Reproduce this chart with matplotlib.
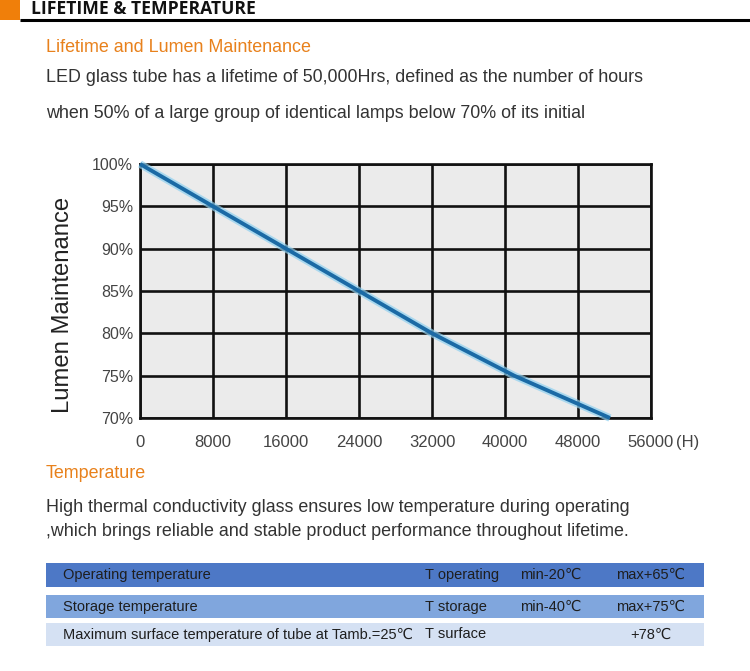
import matplotlib
matplotlib.use("Agg")
import matplotlib.pyplot as plt
from matplotlib.patches import Rectangle

# ---- data ----
hours = [0, 8000, 16000, 24000, 32000, 41000, 51500]
lumen = [100, 95, 90, 85, 80, 75, 70]
x_ticks = [0, 8000, 16000, 24000, 32000, 40000, 48000, 56000]
y_ticks = [70, 75, 80, 85, 90, 95, 100]
y_tick_labels = ["70%", "75%", "80%", "85%", "90%", "95%", "100%"]

table_param = ["Operating temperature", "Storage temperature",
               "Maximum surface temperature of tube at Tamb.=25\u2103"]
table_symbol = ["T operating", "T storage", "T surface"]
table_min = ["min-20\u2103", "min-40\u2103", ""]
table_max = ["max+65\u2103", "max+75\u2103", "+78\u2103"]
row_colors = ["#4d78c6", "#80a6dd", "#d5e1f3"]

header = "LIFETIME & TEMPERATURE"
sec1_title = "Lifetime and Lumen Maintenance"
sec1_lines = ["LED glass tube has a lifetime of 50,000Hrs, defined as the number of hours",
              "when 50% of a large group of identical lamps below 70% of its initial"]
sec2_title = "Temperature"
sec2_lines = ["High thermal conductivity glass ensures low temperature during operating",
              ",which brings reliable and stable product performance throughout lifetime."]

W, H = 750, 671
ORANGE = "#e8811c"
TXT = "#333333"
plt.rcParams['font.family'] = ['Liberation Sans', 'DejaVu Sans']

fig = plt.figure(figsize=(W / 100, H / 100), dpi=100)
fig.patch.set_facecolor("white")

# overlay axes in pixel coordinates for layout elements
ov = fig.add_axes([0, 0, 1, 1])
ov.set_xlim(0, W)
ov.set_ylim(H, 0)
ov.axis("off")

# header
ov.add_patch(Rectangle((0, 0), 20, 20, color="#f07f0a", lw=0))
ov.plot([20, W], [19.5, 19.5], color="black", lw=2.2, solid_capstyle="butt")
ov.text(31, 9, header, fontsize=12.6, fontweight="bold", color="#111111",
        va="center", ha="left", family=["Open Sans", "DejaVu Sans"])

BODY = 12.9
ov.text(46, 48, sec1_title, fontsize=BODY, color=ORANGE, va="center", ha="left")
ov.text(46, 78, sec1_lines[0], fontsize=BODY, color=TXT, va="center", ha="left")
ov.text(46, 113, sec1_lines[1], fontsize=BODY, color=TXT, va="center", ha="left")

ov.text(46, 474, sec2_title, fontsize=BODY, color=ORANGE, va="center", ha="left")
ov.text(46, 508, sec2_lines[0], fontsize=BODY, color=TXT, va="center", ha="left")
ov.text(46, 532, sec2_lines[1], fontsize=BODY, color=TXT, va="center", ha="left")

# table
row_tops = [563, 595, 623]
row_h = [24, 23, 23]
for i in range(3):
    ov.add_patch(Rectangle((46, row_tops[i]), 658, row_h[i], color=row_colors[i], lw=0))
    yc = row_tops[i] + row_h[i] / 2
    ov.text(63, yc, table_param[i], fontsize=10.5, color="#1e1e1e", va="center", ha="left")
    ov.text(425, yc, table_symbol[i], fontsize=10.5, color="#1e1e1e", va="center", ha="left")
    if table_min[i]:
        ov.text(520, yc, table_min[i], fontsize=10.5, color="#1e1e1e", va="center", ha="left")
    xm = 616 if i < 2 else 630
    ov.text(xm, yc, table_max[i], fontsize=10.5, color="#1e1e1e", va="center", ha="left")

# chart
ax = fig.add_axes([140 / W, 1 - 418 / H, (651 - 140) / W, (418 - 164) / H])
ax.set_facecolor("#ebebeb")
ax.set_xlim(0, 56000)
ax.set_ylim(70, 100)
ax.set_xticks(x_ticks)
ax.set_yticks(y_ticks)
ax.set_xticklabels([str(v) for v in x_ticks])
ax.set_yticklabels(y_tick_labels)
ax.grid(True, color="#111111", lw=1.9)
ax.set_axisbelow(True)
for s in ax.spines.values():
    s.set_color("#111111")
    s.set_linewidth(1.9)
ax.tick_params(length=0, labelsize=11.5, labelcolor="#444444", pad=5)
ax.tick_params(axis="x", labelsize=12, pad=12)

ax.plot(hours, lumen, color="#8fd0f0", lw=5.5, solid_capstyle="butt", zorder=3, clip_on=False, alpha=0.7)
ax.plot(hours, lumen, color="#1b6aa5", lw=2.8, solid_capstyle="butt", zorder=4, clip_on=False)

ax.annotate("(H)", xy=(56000, 70), xycoords="data", xytext=(18, -12),
            textcoords="offset points", fontsize=12, color="#444444", ha="left", va="top")

ax.set_ylabel("Lumen Maintenance", fontsize=17.2, color="#222222")
ax.yaxis.set_label_coords(-0.13, 0.445)

fig.savefig("out.png", dpi=100)
